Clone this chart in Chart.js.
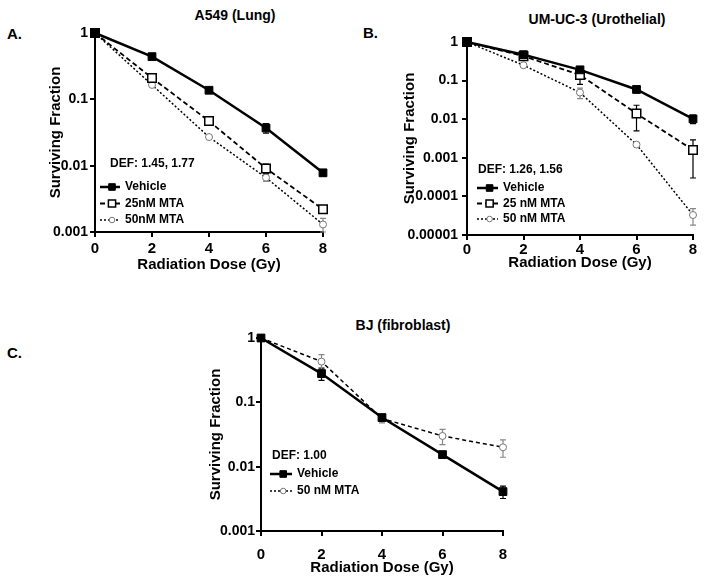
<!DOCTYPE html>
<html>
<head>
<meta charset="utf-8">
<script src="https://cdn.jsdelivr.net/npm/chart.js@4.4.0/dist/chart.umd.min.js"></script>
<style>
body { margin:0; background:#fff; width:704px; height:585px; position:relative; overflow:hidden; font-family:'Liberation Sans', Arial, sans-serif; }
.panel { position:absolute; }
.title { position:absolute; font-weight:bold; font-size:14px; color:#000; white-space:nowrap; transform:translate(-50%,-50%); }
.letter { position:absolute; font-weight:bold; font-size:15px; color:#000; transform:translate(0,-50%); }
</style>
</head>
<body>
<div class="letter" style="left:7px;top:33px">A.</div>
<div class="letter" style="left:363px;top:32px">B.</div>
<div class="letter" style="left:7px;top:352px">C.</div>
<div class="title" style="left:235px;top:15px">A549 (Lung)</div>
<div class="title" style="left:597px;top:19px">UM-UC-3 (Urothelial)</div>
<div class="title" style="left:403px;top:325px">BJ (fibroblast)</div>
<canvas id="chartA" class="panel" style="left:0;top:0" width="350" height="280"></canvas>
<canvas id="chartB" class="panel" style="left:355px;top:0" width="349" height="280"></canvas>
<canvas id="chartC" class="panel" style="left:170px;top:290px" width="360" height="295"></canvas>
<script>
// doses (Gy) shared by all panels
var doses = [0, 2, 4, 6, 8];
var doseTicks = [0, 2, 4, 6, 8];

// A549 (Lung)
var vehicleA = [1, 0.44, 0.137, 0.037, 0.0078];
var vehicleAErr = [0, 0.02, 0.008, 0.006, 0.0008];
var mta25A = [1, 0.21, 0.047, 0.0091, 0.0022];
var mta25AErr = [0, 0.015, 0.004, 0.0015, 0.0003];
var mta50A = [1, 0.165, 0.027, 0.0066, 0.0013];
var mta50AErr = [0, 0.01, 0.002, 0.0008, 0.0003];
var decadesA = [0.001, 0.01, 0.1, 1];
var tickLabelsA = ['0.001', '0.01', '0.1', '1'];

// UM-UC-3 (Urothelial)
var vehicleB = [1, 0.47, 0.19, 0.059, 0.0102];
var vehicleBErr = [0, 0.05, 0.02, 0.01, 0.0025];
var mta25B = [1, 0.43, 0.14, 0.014, 0.0016];
var mta25BErr = [0, 0.06, 0.06, 0.009, 0.0013];
var mta50B = [1, 0.25, 0.049, 0.0022, 0.000033];
var mta50BErr = [0, 0.02, 0.015, 0.0002, 0.000015];
var decadesB = [0.00001, 0.0001, 0.001, 0.01, 0.1, 1];
var tickLabelsB = ['0.00001', '0.0001', '0.001', '0.01', '0.1', '1'];

// BJ (fibroblast)
var vehicleC = [1, 0.28, 0.058, 0.0154, 0.0041];
var vehicleCErr = [0, 0.06, 0.006, 0.0015, 0.0009];
var mta50C = [1, 0.43, 0.056, 0.03, 0.02];
var mta50CErr = [0, 0.12, 0.008, 0.008, 0.006];
var decadesC = [0.001, 0.01, 0.1, 1];
var tickLabelsC = ['0.001', '0.01', '0.1', '1'];

var FONT = "'Liberation Sans', Arial, sans-serif";
Chart.defaults.font.family = FONT;
Chart.defaults.font.weight = 'bold';
Chart.defaults.color = '#000';

function pts(ys) {
  return doses.map(function(d, i) { return {x: d, y: ys[i]}; });
}

function vehicle(label, ys, errs) {
  return {
    label: label, data: pts(ys), errors: errs, errorColor: '#000',
    borderColor: '#000', borderWidth: 2.5, tension: 0, clip: false,
    pointStyle: 'rect', pointRadius: 5.5, pointBackgroundColor: '#000',
    pointBorderColor: '#000', pointBorderWidth: 1
  };
}
function mta25(label, ys, errs) {
  return {
    label: label, data: pts(ys), errors: errs, errorColor: '#000',
    borderColor: '#000', borderWidth: 1.8, borderDash: [5, 3], tension: 0, clip: false,
    pointStyle: 'rect', pointRadius: 6, pointBackgroundColor: '#fff',
    pointBorderColor: '#000', pointBorderWidth: 1.5
  };
}
function mta50(label, ys, errs, dash) {
  return {
    label: label, data: pts(ys), errors: errs, errorColor: '#888',
    borderColor: '#000', borderWidth: 1.5, borderDash: dash || [2, 2], legendDash: [2, 2],
    tension: 0, clip: false,
    pointStyle: 'circle', pointRadius: 3.5, pointBackgroundColor: '#fff',
    pointBorderColor: '#777', pointBorderWidth: 1
  };
}

var errorBars = {
  id: 'errorBars',
  beforeDatasetsDraw: function(chart) {
    var ctx = chart.ctx, xs = chart.scales.x, ys = chart.scales.y;
    chart.data.datasets.forEach(function(ds) {
      if (!ds.errors) return;
      ctx.save();
      ctx.strokeStyle = ds.errorColor;
      ctx.lineWidth = 1.2;
      ds.data.forEach(function(p, j) {
        var e = ds.errors[j];
        if (!e) return;
        var px = xs.getPixelForValue(p.x);
        var top = ys.getPixelForValue(p.y + e);
        var bot = ys.getPixelForValue(Math.max(p.y - e, ys.min));
        ctx.beginPath();
        ctx.moveTo(px, top); ctx.lineTo(px, bot);
        ctx.moveTo(px - 3, top); ctx.lineTo(px + 3, top);
        ctx.moveTo(px - 3, bot); ctx.lineTo(px + 3, bot);
        ctx.stroke();
      });
      ctx.restore();
    });
  }
};

var insetLegend = {
  id: 'insetLegend',
  afterDatasetsDraw: function(chart, args, opts) {
    var ctx = chart.ctx;
    ctx.save();
    ctx.font = 'bold 12px ' + FONT;
    ctx.fillStyle = '#000';
    ctx.textBaseline = 'middle';
    ctx.fillText(opts.note, opts.noteX, opts.noteY);
    chart.data.datasets.forEach(function(ds, i) {
      var yy = opts.y + i * opts.rowGap;
      ctx.strokeStyle = ds.borderColor;
      ctx.lineWidth = ds.borderWidth;
      ctx.setLineDash(ds.legendDash || ds.borderDash || []);
      ctx.beginPath();
      ctx.moveTo(opts.x, yy);
      ctx.lineTo(opts.x + opts.lineLen, yy);
      ctx.stroke();
      ctx.setLineDash([]);
      var mx = opts.x + opts.lineLen * 0.6;
      ctx.fillStyle = ds.pointBackgroundColor;
      ctx.strokeStyle = ds.pointBorderColor;
      ctx.lineWidth = ds.pointBorderWidth;
      ctx.beginPath();
      if (ds.pointStyle === 'rect') {
        var s = ds.pointRadius * 0.6;
        ctx.rect(mx - s, yy - s, 2 * s, 2 * s);
      } else {
        ctx.arc(mx, yy, ds.pointRadius * 0.8, 0, Math.PI * 2);
      }
      ctx.fill();
      ctx.stroke();
      ctx.fillStyle = '#000';
      ctx.fillText(ds.label, opts.x + opts.lineLen + 5, yy);
    });
    ctx.restore();
  }
};

function makeChart(id, datasets, cfg) {
  return new Chart(document.getElementById(id), {
    type: 'line',
    data: {datasets: datasets},
    plugins: [errorBars, insetLegend],
    options: {
      responsive: false,
      animation: false,
      devicePixelRatio: 1,
      layout: {padding: {left: 0, top: cfg.top, right: cfg.right, bottom: 0}},
      plugins: {
        legend: {display: false},
        tooltip: {enabled: false},
        insetLegend: cfg.legend
      },
      scales: {
        x: {
          type: 'linear', min: 0, max: 8,
          afterBuildTicks: function(s) { s.ticks = doseTicks.map(function(v) { return {value: v}; }); },
          afterFit: function(s) { s.height = cfg.xHeight; },
          grid: {drawOnChartArea: false, color: '#000', lineWidth: 2, tickLength: 5},
          border: {color: '#000', width: 2},
          ticks: {color: '#000', font: {size: 15, weight: 'bold'}, padding: cfg.xTickPad, maxRotation: 0},
          title: {display: true, text: 'Radiation Dose (Gy)', color: '#000',
                  font: {size: 15, weight: 'bold'}, padding: {top: 0, bottom: cfg.xTitlePad}}
        },
        y: {
          type: 'logarithmic', min: cfg.decades[0], max: 1,
          afterBuildTicks: function(s) { s.ticks = cfg.decades.map(function(v) { return {value: v}; }); },
          afterFit: function(s) { s.width = cfg.yWidth; },
          grid: {drawOnChartArea: false, color: '#000', lineWidth: 2, tickLength: 5},
          border: {color: '#000', width: 2},
          ticks: {
            color: '#000', font: {size: 14, weight: 'bold'}, padding: cfg.yTickPad,
            callback: function(v) { return cfg.labels[cfg.decades.indexOf(v)]; }
          },
          title: {display: true, text: 'Surviving Fraction', color: '#000',
                  font: {size: 15, weight: 'bold'}, padding: {top: cfg.yTitlePad, bottom: 0}}
        }
      }
    }
  });
}

makeChart('chartA', [
  vehicle('Vehicle', vehicleA, vehicleAErr),
  mta25('25nM MTA', mta25A, mta25AErr),
  mta50('50nM MTA', mta50A, mta50AErr)
], {
  top: 33, right: 27, xHeight: 48, yWidth: 95, xTickPad: 3, yTickPad: 2,
  xTitlePad: 6, yTitlePad: 47, decades: decadesA, labels: tickLabelsA,
  legend: {note: 'DEF: 1.45, 1.77', noteX: 110, noteY: 164, x: 100, y: 187, rowGap: 16.5, lineLen: 20}
});

makeChart('chartB', [
  vehicle('Vehicle', vehicleB, vehicleBErr),
  mta25('25 nM MTA', mta25B, mta25BErr),
  mta50('50 nM MTA', mta50B, mta50BErr)
], {
  top: 42, right: 11, xHeight: 45, yWidth: 112, xTickPad: 1, yTickPad: 4,
  xTitlePad: 8, yTitlePad: 46, decades: decadesB, labels: tickLabelsB,
  legend: {note: 'DEF: 1.26, 1.56', noteX: 123, noteY: 170, x: 122, y: 188, rowGap: 15.5, lineLen: 21}
});

makeChart('chartC', [
  vehicle('Vehicle', vehicleC, vehicleCErr),
  mta50('50 nM MTA', mta50C, mta50CErr, [4, 3])
], {
  top: 48, right: 27, xHeight: 54, yWidth: 91, xTickPad: 10, yTickPad: 1,
  xTitlePad: 8, yTitlePad: 37, decades: decadesC, labels: tickLabelsC,
  legend: {note: 'DEF: 1.00', noteX: 102, noteY: 166, x: 100, y: 184, rowGap: 17, lineLen: 22}
});
</script>
</body>
</html>
